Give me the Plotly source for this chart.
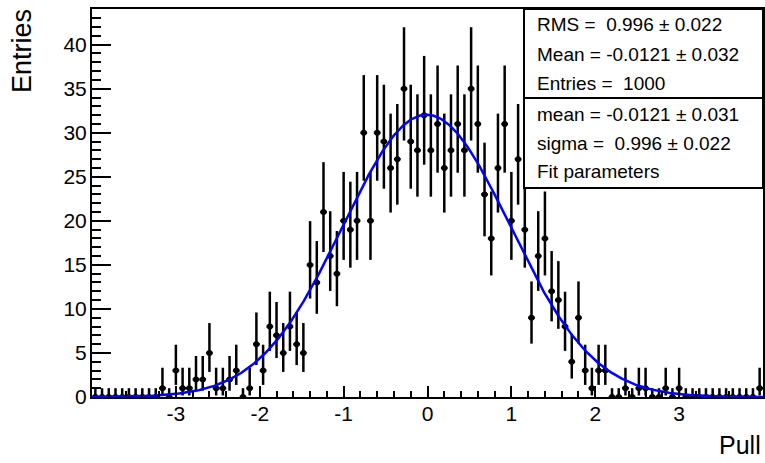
import numpy as np
import plotly.graph_objects as go

# ---------------- data ----------------
BIN_LOW = -4.0
BIN_WIDTH = 0.08
counts = [
    0, 0, 0, 0, 0, 0, 0, 0, 0, 0,          # bins 0-9
    1, 0, 3, 1, 1, 2, 2, 5, 1, 1,          # bins 10-19
    2, 3, 0, 1, 6, 3, 8, 7, 5, 8,          # bins 20-29
    6, 5, 15, 13, 21, 16, 14, 20, 19, 20,  # bins 30-39
    30, 20, 30, 29, 26, 27, 35, 29, 28, 32,  # bins 40-49
    28, 31, 26, 28, 31, 28, 35, 31, 23, 18,  # bins 50-59
    26, 31, 20, 27, 19, 9, 16, 18, 12, 11,   # bins 60-69
    8, 4, 9, 3, 1, 3, 3, 0, 0, 1,            # bins 70-79
    0, 1, 1, 0, 0, 1, 0, 1, 0, 0,            # bins 80-89
    0, 0, 0, 0, 0, 0, 0, 0, 0, 1,            # bins 90-99
]
x_tick_vals = [-3, -2, -1, 0, 1, 2, 3]
x_tick_text = ["-3", "-2", "-1", "0", "1", "2", "3"]
y_tick_vals = [0, 5, 10, 15, 20, 25, 30, 35, 40]
y_tick_text = ["0", "5", "10", "15", "20", "25", "30", "35", "40"]

stat_lines = ["RMS =\u00a0\u00a00.996 \u00b1 0.022",
              "Mean = -0.0121 \u00b1 0.032",
              "Entries =\u00a0\u00a01000"]
fit_lines = ["mean = -0.0121 \u00b1 0.031",
             "sigma =\u00a0\u00a00.996 \u00b1 0.022",
             "Fit parameters"]
ENTRIES = 1000
FIT_MEAN = -0.0121
FIT_SIGMA = 0.996
ZERO_BIN_UP = 1.0  # visual size of mark drawn for empty bins

# ---------------- derived ----------------
counts = np.array(counts, dtype=float)
centers = BIN_LOW + BIN_WIDTH * (np.arange(len(counts)) + 0.5)
n = counts
nn = np.maximum(n, 1)
err_up = np.where(n > 0, np.sqrt(n + 0.75) + 1.0, ZERO_BIN_UP)
low = np.where(n > 0, nn * (1 - 1 / (9 * nn) - 1 / (3 * np.sqrt(nn))) ** 3, 0)
err_dn = n - low

xf = np.linspace(-4, 4, 600)
amp = ENTRIES * BIN_WIDTH / (np.sqrt(2 * np.pi) * FIT_SIGMA)
yf = amp * np.exp(-0.5 * ((xf - FIT_MEAN) / FIT_SIGMA) ** 2)

fig = go.Figure()
fig.add_trace(go.Scatter(
    x=centers, y=counts, mode="markers",
    marker=dict(color="black", size=6, symbol="circle"),
    error_x=dict(type="constant", value=BIN_WIDTH / 2, width=0, thickness=2.5, color="black"),
    error_y=dict(type="data", symmetric=False, array=err_up, arrayminus=err_dn,
                 width=0, thickness=2.5, color="black"),
    showlegend=False,
))
fig.add_trace(go.Scatter(x=xf, y=yf, mode="lines",
                         line=dict(color="#0000ff", width=2.5), showlegend=False))

FONT = "Liberation Sans, Arial, Helvetica, sans-serif"
L, R, T, B = 92, 763, 9, 397
W, H = 765, 463

def px(xp):
    return (xp - L) / (R - L)

def py(yp):
    return (B - yp) / (B - T)

fig.update_layout(
    width=W, height=H,
    margin=dict(l=L, r=W - R, t=T, b=H - B, pad=0),
    paper_bgcolor="white", plot_bgcolor="white",
    font=dict(family=FONT, color="black"),
    xaxis=dict(range=[-4, 4], showgrid=False, zeroline=False,
               showline=True, mirror=True, linecolor="black", linewidth=2,
               tickvals=x_tick_vals, ticktext=x_tick_text,
               ticks="inside", ticklen=11, tickwidth=1.5, tickcolor="black",
               tickfont=dict(size=21, family=FONT), ticklabelstandoff=-3,
               automargin=False,
               minor=dict(dtick=0.2, tick0=0, ticks="inside", ticklen=6,
                          tickwidth=1.5, tickcolor="black")),
    yaxis=dict(range=[0, 44.05], showgrid=False, zeroline=False,
               showline=True, mirror=True, linecolor="black", linewidth=2,
               tickvals=y_tick_vals, ticktext=y_tick_text,
               ticks="inside", ticklen=19, tickwidth=1.5, tickcolor="black",
               tickfont=dict(size=21, family=FONT), ticklabelstandoff=-1,
               automargin=False,
               minor=dict(dtick=1, tick0=0, ticks="inside", ticklen=9,
                          tickwidth=1.5, tickcolor="black")),
)

# stat boxes
box_l, box_r = 524, 763
for (y0, y1) in [(9, 98), (98, 188)]:
    fig.add_shape(type="rect", xref="paper", yref="paper",
                  x0=px(box_l), x1=px(box_r), y0=py(y1), y1=py(y0),
                  line=dict(color="black", width=2), fillcolor="white", layer="above")

line_y = [25, 54, 83, 114, 143, 172]
for txt, yy in zip(stat_lines + fit_lines, line_y):
    fig.add_annotation(text=txt, xref="paper", yref="paper",
                       x=px(535), y=py(yy), xanchor="left", yanchor="middle",
                       showarrow=False, font=dict(size=19, family=FONT, color="black"))

# axis titles
fig.add_annotation(text="Entries", xref="paper", yref="paper",
                   x=px(22), y=py(51), xanchor="center", yanchor="middle",
                   textangle=-90, showarrow=False,
                   font=dict(size=27, family=FONT, color="black"))
fig.add_annotation(text="Pull", xref="paper", yref="paper",
                   x=px(763), y=py(445), xanchor="right", yanchor="middle",
                   showarrow=False, font=dict(size=25, family=FONT, color="black"))

fig.write_html("out.html", config={"displayModeBar": False},
               post_script="document.body.style.margin='0';document.body.style.padding='0';")
